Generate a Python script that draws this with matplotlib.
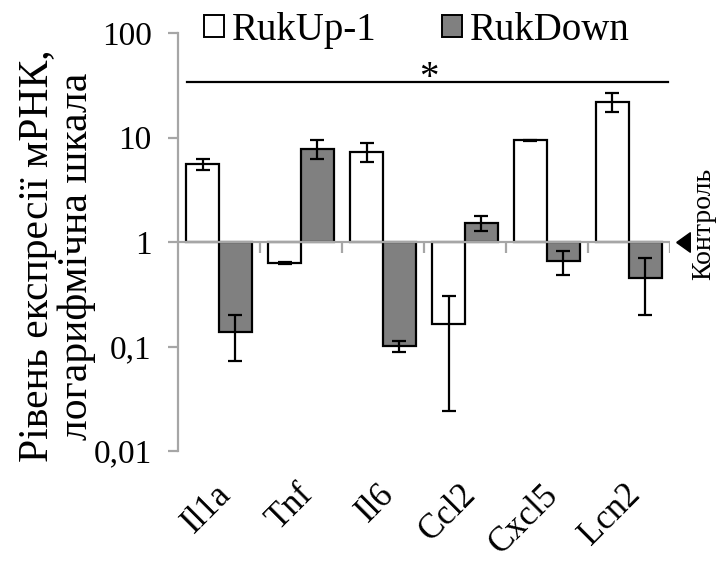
import numpy as np
import matplotlib
matplotlib.use("Agg")
import matplotlib.pyplot as plt
from matplotlib.patches import Patch
from matplotlib.ticker import FixedLocator, FixedFormatter, NullLocator

plt.rcParams["font.family"] = "serif"
plt.rcParams["font.serif"] = ["Liberation Serif", "DejaVu Serif"]

# відносна експресія мРНК (контроль = 1)
genes = ["Il1a", "Tnf", "Il6", "Ccl2", "Cxcl5", "Lcn2"]
up_mean = [5.6, 0.63, 7.3, 0.163, 9.4, 22.0]
up_err = [0.65, 0.01, 1.5, 0.139, 0.08, 4.5]
down_mean = [0.137, 7.8, 0.101, 1.52, 0.655, 0.45]
down_err = [0.065, 1.6, 0.013, 0.24, 0.17, 0.25]
sig_level = 34
y_ticks = [0.01, 0.1, 1, 10, 100]
y_tick_labels = ["0,01", "0,1", "1", "10", "100"]

GREY_AX = "#a6a6a6"
x = np.arange(len(genes))
w = 0.4

fig = plt.figure(figsize=(7.21, 5.63), dpi=100)
ax = fig.add_axes([0.247, 0.199, 0.682, 0.742])
ax.set_yscale("log")

up = np.array(up_mean)
dn = np.array(down_mean)
ax.bar(x - w / 2, up - 1, w, bottom=1, color="white", edgecolor="black", lw=1.6, zorder=2)
ax.bar(x + w / 2, dn - 1, w, bottom=1, color="#808080", edgecolor="black", lw=1.6, zorder=2)
ax.errorbar(x - w / 2, up, yerr=up_err, fmt="none", ecolor="black",
            elinewidth=1.6, capsize=5, capthick=1.6, zorder=4)
ax.errorbar(x + w / 2, dn, yerr=down_err, fmt="none", ecolor="black",
            elinewidth=1.6, capsize=5, capthick=1.6, zorder=4)

# вісь категорій на рівні контролю
ax.axhline(1, color=GREY_AX, lw=1.6, zorder=3)
ax.vlines(np.arange(0.5, len(genes)), 0.785, 1, color=GREY_AX, lw=1.6, zorder=3)

ax.set_xlim(-0.5, len(genes) - 0.5)
ax.set_ylim(0.01, 100)
ax.yaxis.set_major_locator(FixedLocator(y_ticks))
ax.yaxis.set_major_formatter(FixedFormatter(y_tick_labels))
ax.yaxis.set_minor_locator(NullLocator())
ax.tick_params(axis="y", colors=GREY_AX, labelcolor="black", labelsize=24,
               length=7, width=1.6, pad=12)
for s in ["top", "right", "bottom"]:
    ax.spines[s].set_visible(False)
ax.spines["left"].set_color(GREY_AX)
ax.spines["left"].set_linewidth(1.6)

ax.set_xticks(x + 0.08)
ax.set_xticklabels(genes, rotation=45, ha="right", va="center",
                   rotation_mode="anchor", fontsize=25)
ax.tick_params(axis="x", length=0, pad=28)

# значущість
ax.plot([-0.39, 5.48], [sig_level, sig_level], color="black", lw=1.6, clip_on=False)
ax.text(2.56, 29.8, "*", ha="center", va="baseline", fontsize=28)

# підпис осі Y
fig.text(57 / 721, 1 - 256 / 563, "Рівень експресії мРНК,\nлогарифмічна шкала",
         rotation=90, ha="center", va="center", multialignment="center",
         fontsize=30, linespacing=1.02)

# позначка контролю
arrow = [(-0.7, 0), (0.7, 1), (0.7, -1), (-0.7, 0)]
ax.plot([5.66], [1], marker=arrow, markersize=14, color="black", clip_on=False)
ax.plot([5.66, 5.73], [1, 1], color="black", lw=1.8, clip_on=False)
fig.text(704 / 721, 1 - 224 / 563, "Контроль", rotation=90, ha="center",
         va="center", fontsize=20)

handles = [Patch(facecolor="white", edgecolor="black", lw=1.4, label="RukUp-1"),
           Patch(facecolor="#808080", edgecolor="black", lw=1.4, label="RukDown")]
fig.legend(handles=handles, ncol=2, loc="upper center",
           bbox_to_anchor=(417 / 721, 1.02), frameon=False, fontsize=28,
           handlelength=0.5, handleheight=0.5, handletextpad=0.2,
           columnspacing=1.7, borderpad=0.1)

plt.savefig("out.png", dpi=100)
